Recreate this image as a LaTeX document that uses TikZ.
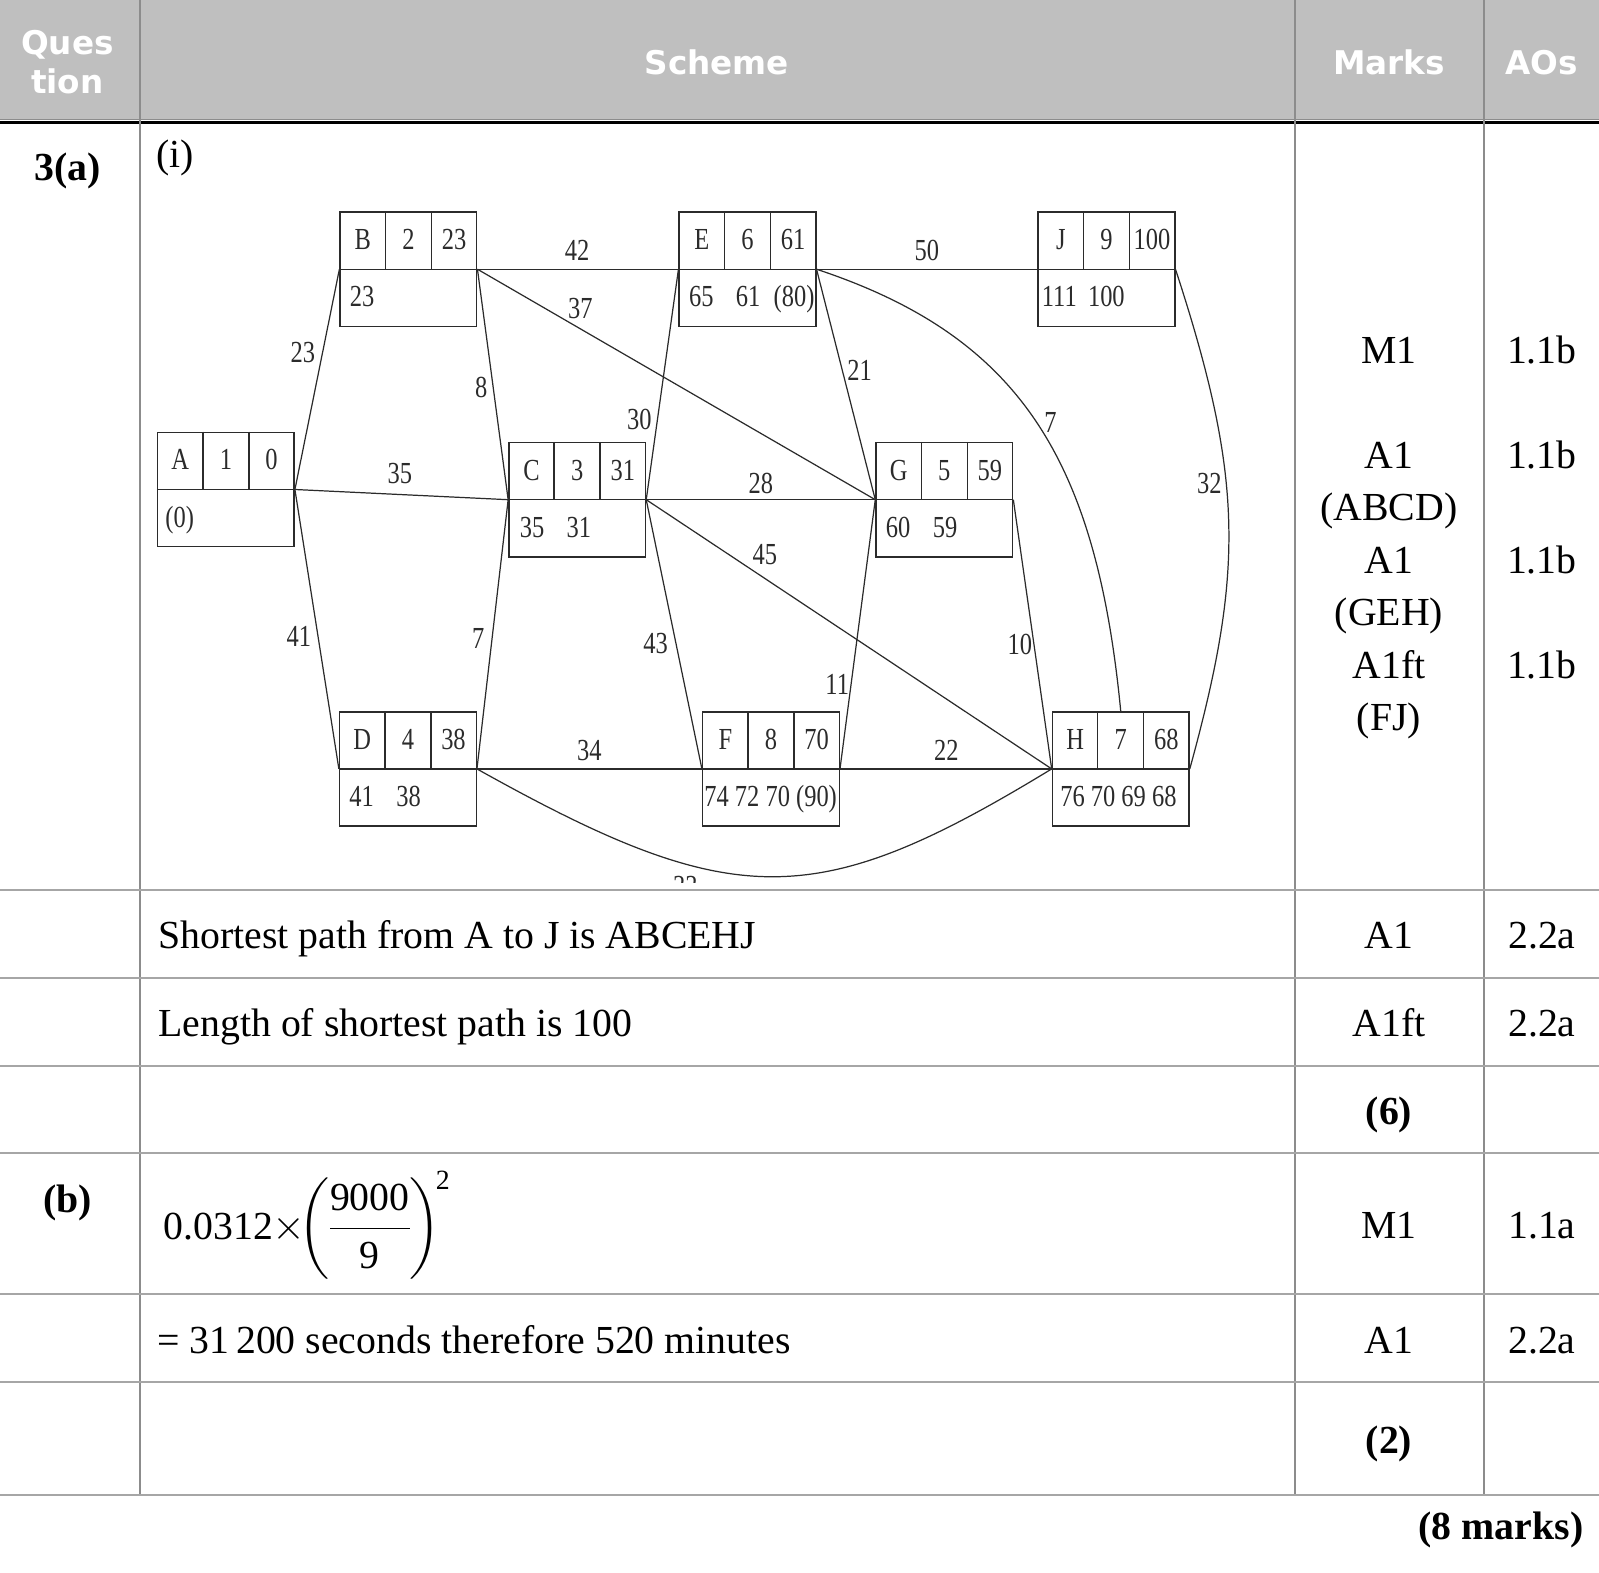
\documentclass[tikz,border=0pt]{standalone}
\usepackage{fontspec}
\usepackage{amsmath}
\usepackage{xcolor}
\setmainfont{Liberation Serif}
\newfontfamily\graphfont[FakeStretch=0.8]{Liberation Serif}
\newfontfamily\headfont{DejaVu Sans}
\usetikzlibrary{calc}

\definecolor{headgray}{HTML}{BFBFBF}
\definecolor{rowgray}{HTML}{A6A6A6}
\definecolor{colgray}{HTML}{8C8C8C}
\definecolor{inkgray}{HTML}{2B2B2B}

% activity box: name, position, letter, order, final value, working values, inset
\newcommand{\actbox}[7]{%
    \node[act] (#1) at (#2) {};
    \draw[boxline] (#1.west) -- (#1.east);
    \draw[boxline] ($(#1.north west)!1/3!(#1.north east)$) -- ($(#1.west)!1/3!(#1.east)$);
    \draw[boxline] ($(#1.north west)!2/3!(#1.north east)$) -- ($(#1.west)!2/3!(#1.east)$);
    \node[cell] (#1-l) at ($(#1)+(-44.7,-28)$) {#3};
    \node[cell] (#1-o) at ($(#1)+(0,-28)$) {#4};
    \node[cell] (#1-v) at ($(#1)+(44.7,-28)$) {#5};
    \node[cell, anchor=west] (#1-w) at ($(#1.west)+(#7,28)$) {#6};
}

\begin{document}
\begin{tikzpicture}[
    x=0.5pt, y=-0.5pt,
    act/.style={draw=inkgray, line width=0.7pt, rectangle, minimum width=67pt, minimum height=56pt, inner sep=0pt},
    boxline/.style={draw=inkgray, line width=0.7pt},
    cell/.style={font=\graphfont\fontsize{15}{18}\selectfont, text=inkgray, inner sep=0pt, text height=1.05em, text depth=0.17em},
    wt/.style={cell},
    edge/.style={draw=inkgray, line width=0.6pt},
    rowrule/.style={draw=rowgray, line width=0.9pt},
    colrule/.style={draw=colgray, line width=0.8pt},
    head/.style={font=\headfont\bfseries\fontsize{16}{19.5}\selectfont, text=white, align=center, inner sep=0pt},
    body/.style={font=\fontsize{19.5}{25.75}\selectfont, inner sep=0pt, anchor=base},
    bodyl/.style={body, anchor=base west},
    bodyb/.style={body, font=\fontsize{19.5}{25.75}\selectfont\bfseries}
]

    \useasboundingbox (0,0) rectangle (1568,1542);

    % header band
    \fill[headgray] (0,0) rectangle (1568,118);
    \draw[draw=colgray, line width=0.6pt] (0,117) -- (1568,117);
    \draw[black, line width=1.3pt] (0,120) -- (1568,120);

    \node[head] (hq) at (66,61) {Ques\\tion};
    \node[head] (hs) at (703,61) {Scheme};
    \node[head] (hm) at (1362,61) {Marks};
    \node[head] (ha) at (1512,61) {AOs};

    % table rules
    \draw[colrule] (137,0) -- (137,1466);
    \draw[colrule] (1270,0) -- (1270,1466);
    \draw[colrule] (1455,0) -- (1455,1466);
    \draw[rowrule] (0,873) -- (1568,873);
    \draw[rowrule] (0,959) -- (1568,959);
    \draw[rowrule] (0,1045) -- (1568,1045);
    \draw[rowrule] (0,1131) -- (1568,1131);
    \draw[rowrule] (0,1269) -- (1568,1269);
    \draw[rowrule] (0,1355) -- (1568,1355);
    \draw[rowrule] (0,1466) -- (1568,1466);

    % part (a)
    \node[bodyb] (qa) at (66,177) {3(a)};
    \node[bodyl] (qi) at (153,164) {(i)};

    % network
    \actbox{A}{221.5,480}{A}{1}{0}{(0)}{8}
    \actbox{B}{400.5,264}{B}{2}{23}{23}{10}
    \actbox{C}{566,490}{C}{3}{31}{35\hspace{11pt}31}{11}
    \actbox{D}{400,754}{D}{4}{38}{41\hspace{11pt}38}{10}
    \actbox{E}{733,264}{E}{6}{61}{65\hspace{11pt}61\hspace{6.5pt}(80)}{10}
    \actbox{F}{756,754}{F}{8}{70}{74 72 70 (90)}{2}
    \actbox{G}{926,490}{G}{5}{59}{60\hspace{11pt}59}{10}
    \actbox{H}{1099,754}{H}{7}{68}{76 70 69 68}{8}
    \actbox{J}{1085,264}{J}{9}{100}{111\hspace{5.5pt}100}{4}

    \draw[edge] (A.east) -- (B.west);
    \draw[edge] (A.east) -- (C.west);
    \draw[edge] (A.east) -- (D.west);
    \draw[edge] (B.east) -- (E.west);
    \draw[edge] (B.east) -- (C.west);
    \draw[edge] (B.east) -- (G.west);
    \draw[edge] (D.east) -- (C.west);
    \draw[edge] (D.east) -- (F.west);
    \draw[edge] (C.east) -- (E.west);
    \draw[edge] (C.east) -- (G.west);
    \draw[edge] (C.east) -- (F.west);
    \draw[edge] (C.east) -- (H.west);
    \draw[edge] (E.east) -- (J.west);
    \draw[edge] (E.east) -- (G.west);
    \draw[edge] (F.east) -- (G.west);
    \draw[edge] (F.east) -- (H.west);
    \draw[edge] (G.east) -- (H.west);
    \draw[edge] (E.east) .. controls (1000,330) and (1075,450) .. (H.north);
    \draw[edge] (H.east) .. controls (1220,560) and (1220,470) .. (J.east);
    \draw[edge] (D.east) .. controls (720,895) and (800,895) .. (H.west);

    \node[wt] (wAB) at (297,347) {23};
    \node[wt] (wAC) at (392,465) {35};
    \node[wt] (wAD) at (293,625) {41};
    \node[wt] (wBE) at (566,247) {42};
    \node[wt] (wBG) at (569,304) {37};
    \node[wt] (wBC) at (472,381) {8};
    \node[wt] (wDC) at (469,627) {7};
    \node[wt] (wCE) at (627,412) {30};
    \node[wt] (wCG) at (746,475) {28};
    \node[wt] (wCH) at (750,545) {45};
    \node[wt] (wCF) at (643,632) {43};
    \node[wt] (wDF) at (578,737) {34};
    \node[wt] (wEJ) at (909,247) {50};
    \node[wt] (wEG) at (843,364) {21};
    \node[wt] (wEH) at (1030,415) {7};
    \node[wt] (wFG) at (821,672) {11};
    \node[wt] (wFH) at (928,737) {22};
    \node[wt] (wGH) at (1000,633) {10};
    \node[wt] (wHJ) at (1186,475) {32};
    \begin{scope}
        \clip (137,121) rectangle (1270,865);
        \node[wt] (wDH) at (672,870) {33};
    \end{scope}

    % marks for (a)(i)
    \node[body] (m1) at (1362,356) {M1};
    \node[body] (m2) at (1362,459) {A1};
    \node[body] (m2n) at (1362,510) {(ABCD)};
    \node[body] (m3) at (1362,562) {A1};
    \node[body] (m3n) at (1362,613) {(GEH)};
    \node[body] (m4) at (1362,665) {A1ft};
    \node[body] (m4n) at (1362,716) {(FJ)};
    \node[body] (ao1) at (1512,356) {1.1b};
    \node[body] (ao2) at (1512,459) {1.1b};
    \node[body] (ao3) at (1512,562) {1.1b};
    \node[body] (ao4) at (1512,665) {1.1b};

    \node[bodyl] (path) at (155,930) {Shortest path from A to J is ABCEHJ};
    \node[body] (m5) at (1362,930) {A1};
    \node[body] (ao5) at (1512,930) {2.2a};

    \node[bodyl] (len) at (155,1016) {Length of shortest path is 100};
    \node[body] (m6) at (1362,1016) {A1ft};
    \node[body] (ao6) at (1512,1016) {2.2a};

    \node[bodyb] (tota) at (1362,1103) {(6)};

    % part (b)
    \node[bodyb] (qb) at (66,1189) {(b)};
    \node[bodyl] (calc) at (160,1215) {0.0312$\times\!\!\left(\mkern-1mu\dfrac{\text{9000}}{\text{9}}\mkern-1mu\right)^{\!\text{2}}$};
    \node[body] (m7) at (1362,1214) {M1};
    \node[body] (ao7) at (1512,1214) {1.1a};

    \node[bodyl] (secs) at (154,1327) {= 31\,200 seconds therefore 520 minutes};
    \node[body] (m8) at (1362,1327) {A1};
    \node[body] (ao8) at (1512,1327) {2.2a};

    \node[bodyb] (totb) at (1362,1425) {(2)};
    \node[bodyb, anchor=base east] (total) at (1553,1510) {(8 marks)};

\end{tikzpicture}
\end{document}
